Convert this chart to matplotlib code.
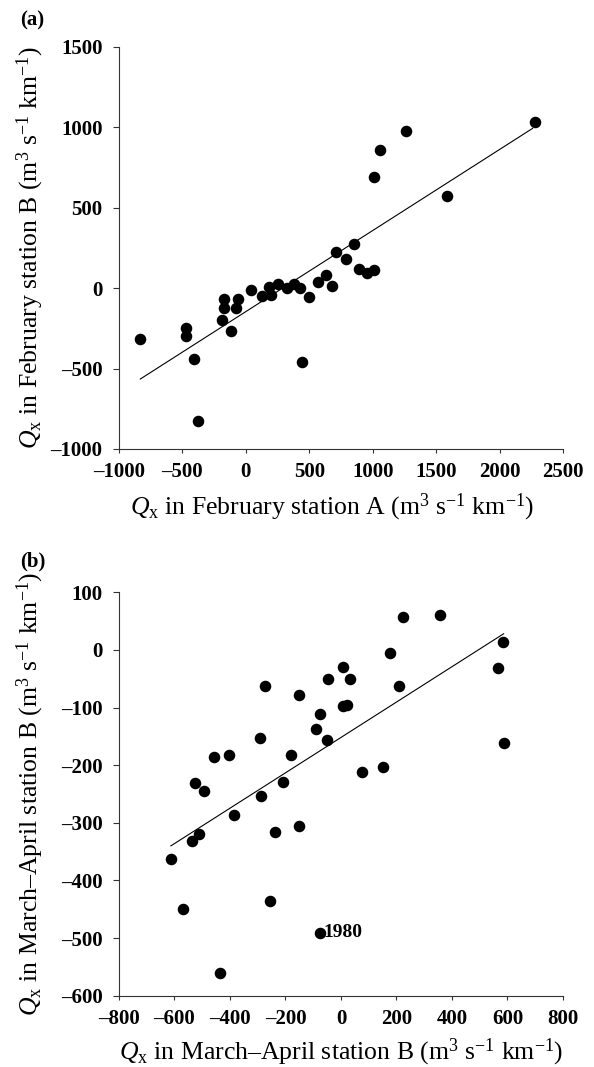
import matplotlib
matplotlib.use("Agg")
import matplotlib.pyplot as plt

plt.rcParams['font.family'] = ['Liberation Serif', 'DejaVu Serif']
plt.rcParams['mathtext.fontset'] = 'custom'
plt.rcParams['mathtext.rm'] = 'Liberation Serif'
plt.rcParams['mathtext.it'] = 'Liberation Serif:italic'
plt.rcParams['mathtext.bf'] = 'Liberation Serif:bold'

# Panel (a): February, station A vs station B
feb_a = [-832, -474, -474, -408, -376, -187, -176, -171, -116, -79, -63, 37, 129, 184,
         195, 255, 326, 379, 429, 445, 497, 568, 629, 676, 708, 787, 850, 892, 953,
         1011, 1011, 1061, 1266, 1582, 2277]
feb_b = [-313, -250, -298, -441, -828, -199, -126, -68, -265, -126, -68, -10, -48, 10,
         -43, 25, 2, 25, 2, -457, -54, 41, 81, 14, 228, 180, 273, 118, 97,
         112, 693, 861, 977, 575, 1031]
fit_a_x = [-832, 2261]
fit_a_y = [-565, 994]

# Panel (b): March-April
ma_x = [-613, -569, -536, -525, -511, -495, -456, -435, -405, -387, -291, -288, -274,
        -256, -239, -208, -179, -153, -150, -89, -77, -76, -49, -47, 6, 7, 20, 31,
        77, 151, 175, 210, 222, 358, 567, 584, 586]
ma_y = [-362, -450, -332, -231, -319, -244, -185, -560, -182, -286, -152, -253, -63,
        -436, -316, -230, -183, -305, -78, -138, -111, -491, -157, -50, -30, -97, -95, -50,
        -212, -204, -5, -63, 57, 61, -31, 14, -161]
fit_b_x = [-613, 586]
fit_b_y = [-340, 28]
label_1980 = "1980"
label_1980_x = -76
label_1980_y = -491

xticks_a = [-1000, -500, 0, 500, 1000, 1500, 2000, 2500]
yticks_a = [-1000, -500, 0, 500, 1000, 1500]
xticks_b = [-800, -600, -400, -200, 0, 200, 400, 600, 800]
yticks_b = [-600, -500, -400, -300, -200, -100, 0, 100]

EN = '\u2013'
xlabel_a = r'$\mathit{Q}_{\mathrm{x}}$ in February station A (m$^{3}$ s$^{-1}$ km$^{-1}$)'
ylabel_a = r'$\mathit{Q}_{\mathrm{x}}$ in February station B (m$^{3}$ s$^{-1}$ km$^{-1}$)'
xlabel_b = r'$\mathit{Q}_{\mathrm{x}}$ in March' + EN + r'April station B (m$^{3}$ s$^{-1}$ km$^{-1}$)'
ylabel_b = r'$\mathit{Q}_{\mathrm{x}}$ in March' + EN + r'April station B (m$^{3}$ s$^{-1}$ km$^{-1}$)'

TICK_FS = 15
LABEL_FS = 18.5

fig = plt.figure(figsize=(5.94, 10.67), dpi=100)
axa = fig.add_axes([0.2003, 0.5792, 0.7475, 0.3768])
axb = fig.add_axes([0.2003, 0.0668, 0.7475, 0.3781])

def style(ax, xt, yt):
    for s in ['top', 'right']:
        ax.spines[s].set_visible(False)
    for s in ['left', 'bottom']:
        ax.spines[s].set_linewidth(0.8)
        ax.spines[s].set_color('#333333')
    ax.set_xticks(xt)
    ax.set_yticks(yt)
    ax.set_xlim(xt[0], xt[-1])
    ax.set_ylim(yt[0], yt[-1])
    ax.set_xticklabels([f"{v}".replace('-', EN) for v in xt])
    ax.set_yticklabels([f"{v}".replace('-', EN) for v in yt])
    ax.tick_params(direction='out', length=4.3, width=0.8, pad=7.5, labelsize=TICK_FS,
                   color='#333333')
    ax.tick_params(axis='x', length=3, pad=6.5)
    for lab in ax.get_xticklabels() + ax.get_yticklabels():
        lab.set_fontweight('bold')
    ax.patch.set_alpha(0)

def labels(ax, xl, yl, xc, yc):
    ax.set_xlabel(xl, fontsize=LABEL_FS)
    ax.set_ylabel(yl, fontsize=LABEL_FS)
    ax.xaxis.label.set_va('center')
    ax.yaxis.label.set_va('center')
    ax.xaxis.set_label_coords(*xc)
    ax.yaxis.set_label_coords(*yc)

style(axa, xticks_a, yticks_a)
axa.plot(feb_a, feb_b, 'o', color='black', markersize=7.3, clip_on=False)
axa.plot(fit_a_x, fit_a_y, '-', color='black', linewidth=0.8)
labels(axa, xlabel_a, ylabel_a, (0.479, -0.145), (-0.2, 0.5))
fig.text(20 / 594, 1 - 20 / 1067, '(a)', fontsize=15, fontweight='bold',
         ha='left', va='center')

style(axb, xticks_b, yticks_b)
axb.plot(ma_x, ma_y, 'o', color='black', markersize=7.3, clip_on=False)
axb.plot(fit_b_x, fit_b_y, '-', color='black', linewidth=0.8)
axb.text(label_1980_x + 12, label_1980_y, label_1980, fontsize=14, fontweight='bold',
         ha='left', va='center')
labels(axb, xlabel_b, ylabel_b, (0.501, -0.141), (-0.2, 0.5))
fig.text(20 / 594, 1 - 561 / 1067, '(b)', fontsize=15, fontweight='bold',
         ha='left', va='center')

fig.savefig('out.png', dpi=100)
